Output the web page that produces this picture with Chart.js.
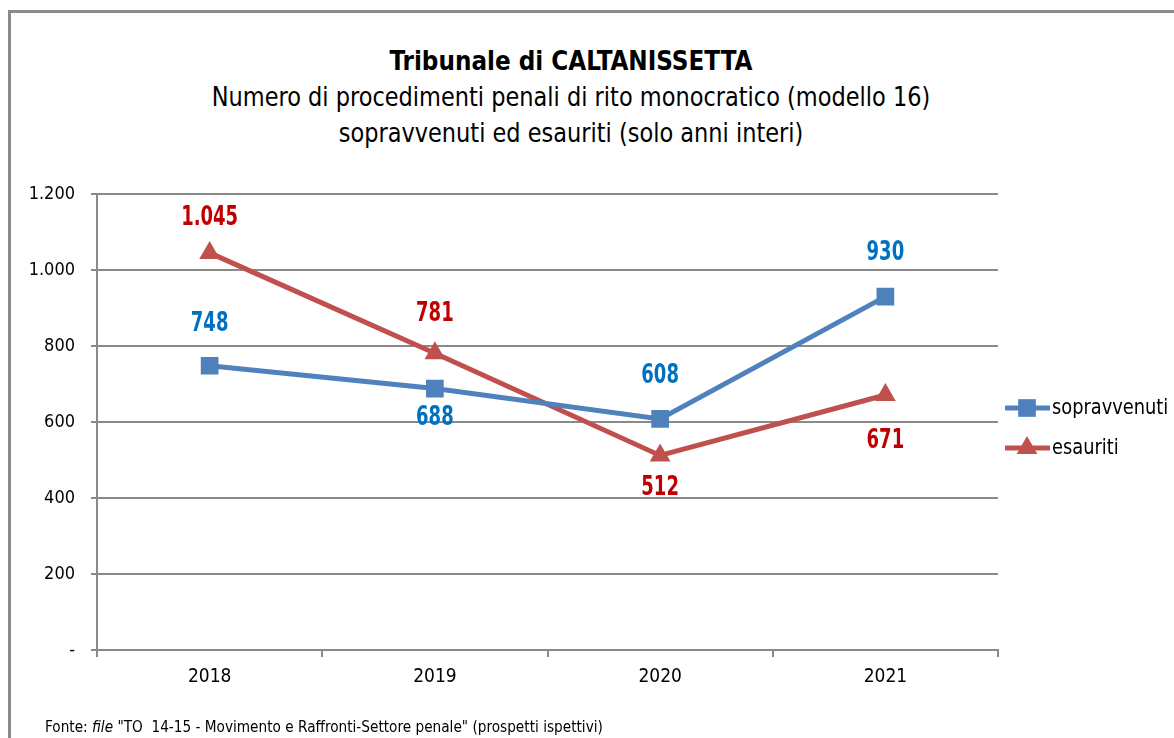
<!DOCTYPE html>
<html>
<head>
<meta charset="utf-8">
<script src="https://cdn.jsdelivr.net/npm/chart.js@4/dist/chart.umd.min.js"></script>
<style>
  body { margin: 0; background: #fff; }
  #wrap { position: relative; width: 1174px; height: 738px; overflow: hidden; }
  #frame { position: absolute; left: 8px; top: 10px; width: 1300px; height: 800px;
           border-left: 3px solid #8a8a8a; border-top: 3px solid #8a8a8a; }
  .narrow { font-family: 'DejaVu Sans Condensed', 'Liberation Sans Narrow', sans-serif; }
  #title { position: absolute; left: 0; width: 1142px; top: 43px; text-align: center; color: #000; }
  #title div { font-size: 27px; line-height: 36px; }
  #title .t1 { font-weight: bold; transform: scaleX(0.953); }
  #title .t2 { transform: scaleX(0.925); }
  #note { position: absolute; left: 45px; top: 718px; font-size: 15.2px; color: #000; white-space: pre; }
  canvas { position: absolute; left: 0; top: 0; }
</style>
</head>
<body>
<div id="wrap">
  <div id="frame"></div>
  <div id="title" class="narrow">
    <div class="t1">Tribunale di CALTANISSETTA</div>
    <div class="t2">Numero di procedimenti penali di rito monocratico (modello 16)</div>
    <div class="t2">sopravvenuti ed esauriti (solo anni interi)</div>
  </div>
  <canvas id="chart" width="1174" height="738"></canvas>
  <div id="note" class="narrow">Fonte: <i>file</i> "TO  14-15 - Movimento e Raffronti-Settore penale" (prospetti ispettivi)</div>
</div>
<script>
const years = ['2018', '2019', '2020', '2021'];
const sopravvenuti = [748, 688, 608, 930];
const esauriti = [1045, 781, 512, 671];
const yTicks = [0, 200, 400, 600, 800, 1000, 1200];

const FONT = "'DejaVu Sans Condensed', 'Liberation Sans Narrow', sans-serif";

// 1045 -> "1.045", 0 -> "-"
function fmt(v) {
    if (v === 0) return '-';
    return String(v).replace(/\B(?=(\d{3})+(?!\d))/g, '.');
}

// value labels next to each point (squeezed a bit, like the narrow Excel font)
const pointLabels = {
    id: 'pointLabels',
    afterDatasetsDraw(chart) {
        const ctx = chart.ctx;
        chart.data.datasets.forEach((ds, i) => {
            const meta = chart.getDatasetMeta(i);
            meta.data.forEach((pt, j) => {
                ctx.save();
                ctx.translate(pt.x, pt.y + ds.labelOffset[j]);
                ctx.scale(0.77, 1);
                ctx.font = 'bold 26px ' + FONT;
                ctx.textAlign = 'center';
                ctx.textBaseline = 'middle';
                ctx.fillStyle = ds.labelColor;
                ctx.fillText(fmt(ds.data[j]), 0, 0);
                ctx.restore();
            });
        });
    }
};

// legend on the right: line + marker + text
const sideLegend = {
    id: 'sideLegend',
    afterDraw(chart) {
        const ctx = chart.ctx;
        ctx.save();
        chart.data.datasets.forEach((ds, i) => {
            const y = 408 + i * 40;
            ctx.strokeStyle = ds.borderColor;
            ctx.lineWidth = 5;
            ctx.beginPath();
            ctx.moveTo(1005, y);
            ctx.lineTo(1050, y);
            ctx.stroke();
            ctx.fillStyle = ds.backgroundColor;
            Chart.helpers.drawPoint(ctx, {
                pointStyle: ds.pointStyle,
                radius: ds.pointRadius,
                borderWidth: 0
            }, 1027, y);
            ctx.save();
            ctx.translate(1052, y);
            ctx.scale(0.9, 1);
            ctx.fillStyle = '#000';
            ctx.font = '22px ' + FONT;
            ctx.textAlign = 'left';
            ctx.textBaseline = 'middle';
            ctx.fillText(ds.label, 0, 0);
            ctx.restore();
        });
        ctx.restore();
    }
};

const ctx = document.getElementById('chart').getContext('2d');

new Chart(ctx, {
    type: 'line',
    data: {
        labels: years,
        datasets: [
            {
                label: 'sopravvenuti',
                data: sopravvenuti,
                borderColor: '#4f81bd',
                backgroundColor: '#4f81bd',
                borderWidth: 5,
                pointStyle: 'rect',
                pointRadius: 12.5,
                pointBorderWidth: 0,
                pointHoverRadius: 12.5,
                labelColor: '#0070c0',
                labelOffset: [-42, 30, -43, -43],
            },
            {
                label: 'esauriti',
                data: esauriti,
                borderColor: '#c0504d',
                backgroundColor: '#c0504d',
                borderWidth: 5,
                pointStyle: 'triangle',
                pointRadius: 12,
                pointBorderWidth: 0,
                pointHoverRadius: 12,
                labelColor: '#c00000',
                labelOffset: [-35, -39, 33, 46],
            },
        ],
    },
    options: {
        responsive: false,
        animation: false,
        layout: { padding: { top: 194, right: 176, bottom: 0, left: 0 } },
        plugins: {
            legend: { display: false },
            tooltip: { enabled: false },
        },
        scales: {
            x: {
                offset: true,
                grid: { offset: true, drawOnChartArea: false, color: '#8a8a8a', lineWidth: 2, tickLength: 7 },
                border: { color: '#8a8a8a', width: 2 },
                ticks: { color: '#000', padding: 9, font: { family: FONT, size: 19 } },
                afterFit: s => { s.height = 88; },
            },
            y: {
                min: 0,
                max: 1200,
                afterBuildTicks: s => { s.ticks = yTicks.map(v => ({ value: v })); },
                grid: { color: '#8a8a8a', lineWidth: 2, tickLength: 6 },
                border: { color: '#8a8a8a', width: 2 },
                ticks: { color: '#000', padding: 16, font: { family: FONT, size: 18 }, callback: v => fmt(v) },
                afterFit: s => { s.width = 97; },
            },
        },
    },
    plugins: [pointLabels, sideLegend],
});
</script>
</body>
</html>
